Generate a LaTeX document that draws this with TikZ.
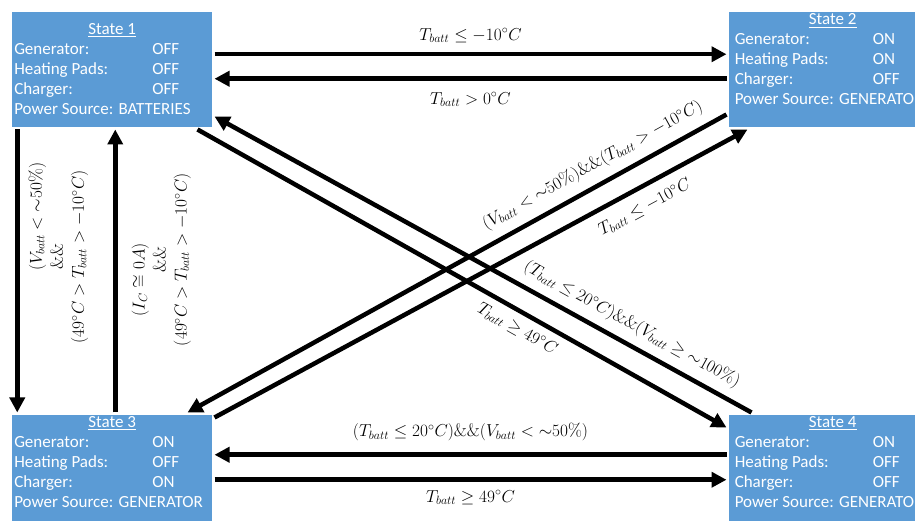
\documentclass[tikz,border=0pt]{standalone}
\usepackage{amsmath,amssymb}
\usepackage{fontspec}
\usepackage{tikz}
\usetikzlibrary{arrows.meta,positioning}
\newfontfamily\boxfont{Carlito}
\definecolor{stateblue}{RGB}{91,155,213}
\newcommand{\stateinfo}[5]{\begin{tabular}[t]{@{}p{138pt}@{}p{58pt}@{}}
  \multicolumn{2}{@{}c@{}}{\underline{#1}}\\
  Generator: & #2\\
  Heating Pads: & #3\\
  Charger: & #4\\
  \multicolumn{2}{@{}l@{}}{Power Source: #5}
\end{tabular}}

\begin{document}
\begin{tikzpicture}[x=1pt,y=1pt,->,>={Triangle[length=15pt,width=15pt]},line width=4.5pt,
  state node/.style={rectangle,fill=stateblue,text=white,inner xsep=2pt,inner ysep=0pt,
    minimum width=200pt,minimum height=115pt,text height=12.5pt,text depth=102.5pt,
    font=\boxfont\fontsize{17}{20}\selectfont},
  first state/.style={text height=22pt,text depth=93pt},
  right state/.style={inner xsep=6pt}]
  \useasboundingbox (0,0) rectangle (915,521);
  \clip (0,0) rectangle (915,521);

  \node[state node,first state,anchor=north west] (s1) at (10,511) {\stateinfo{State 1}{OFF}{OFF}{OFF}{BATTERIES}};
  \node[state node,right state,right=512pt of s1] (s2) {\stateinfo{State 2}{ON}{ON}{OFF}{GENERATOR}};
  \node[state node,below=283pt of s1] (s3) {\stateinfo{State 3}{ON}{OFF}{ON}{GENERATOR}};
  \node[state node,right state,right=512pt of s3] (s4) {\stateinfo{State 4}{ON}{OFF}{OFF}{GENERATOR}};

  \path[every node/.style={font=\fontsize{18}{21}\selectfont}]
    ([yshift=15.5pt]s1.east) edge node[above=6pt] {$T_{batt} \leq -10^{\circ}C$} ([yshift=15.5pt]s2.west)
    ([yshift=-9pt]s2.west) edge node[below=8pt] {$T_{batt} > 0^{\circ}C$} ([yshift=-9pt]s1.east)
    ([yshift=17.5pt]s4.west) edge node[above=8pt] {$(T_{batt} \leq 20^{\circ}C)\&\&(V_{batt} < {\sim}50\%)$} ([yshift=17.5pt]s3.east)
    ([yshift=-7.5pt]s3.east) edge node[below=5pt] {$T_{batt} \geq 49^{\circ}C$} ([yshift=-7.5pt]s4.west)
    ([xshift=-95pt]s1.south) edge node[pos=0.45,xshift=41pt,rotate=90,align=center]
        {\hspace*{80pt}$(V_{batt} < {\sim}50\%)$\\ $\&\&$\\ $(49^{\circ}C > T_{batt} > -10^{\circ}C)$} ([xshift=-95pt]s3.north)
    ([xshift=3pt]s3.north) edge node[pos=0.54,xshift=46pt,rotate=90,align=center]
        {$(I_C \cong 0A)$\hspace*{40pt}\\ $\&\&$\\ $(49^{\circ}C > T_{batt} > -10^{\circ}C)$} ([xshift=3pt]s1.south)
    ([xshift=-17pt]s1.south east) edge node[sloped,below=4pt,pos=0.62] {$T_{batt} \geq 49^{\circ}C$} ([yshift=-15pt]s4.north west)
    ([xshift=25pt]s4.north west) edge node[sloped,above=5pt,pos=0.24]
        {$(T_{batt} \leq 20^{\circ}C)\&\&(V_{batt} \geq {\sim}100\%)$} ([yshift=13pt]s1.south east)
    ([yshift=15pt]s2.south west) edge node[sloped,above=6pt,pos=0.23]
        {$(V_{batt} < {\sim}50\%)\&\&(T_{batt} > -10^{\circ}C)$} ([xshift=-27pt]s3.north east)
    ([yshift=-5pt]s3.north east) edge node[sloped,below=7pt,pos=0.79] {$T_{batt} \leq -10^{\circ}C$} ([xshift=21pt]s2.south west);
\end{tikzpicture}
\end{document}
